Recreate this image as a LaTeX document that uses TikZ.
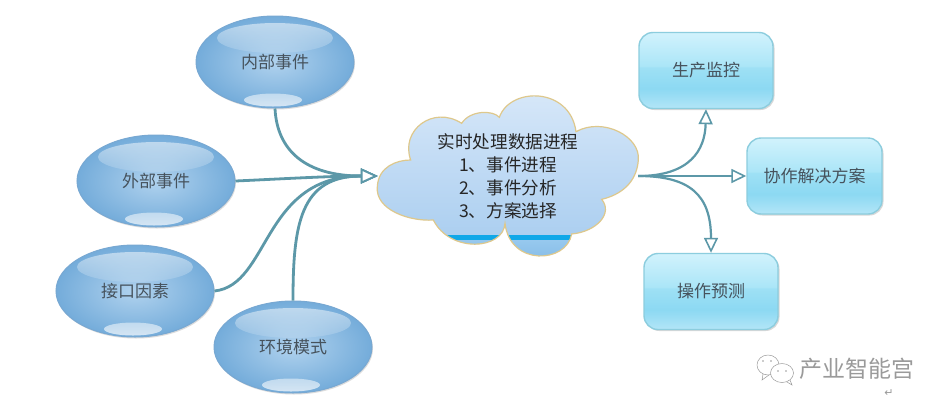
\documentclass[tikz,border=0pt]{standalone}
\usepackage{fontspec}
\setmainfont{Noto Sans CJK SC}
\usetikzlibrary{shapes.geometric,arrows.meta,fadings,shadows}
\definecolor{linkc}{HTML}{5C98A8}
\definecolor{txtc}{HTML}{46525C}
\definecolor{wmark}{HTML}{9A9A9A}
\definecolor{evin}{RGB}{176,210,238}
\definecolor{evout}{RGB}{116,172,218}
\definecolor{evline}{RGB}{120,168,210}
\definecolor{acline}{RGB}{140,205,222}
\definecolor{cltop}{RGB}{216,232,249}
\definecolor{clbot}{RGB}{172,207,240}
\definecolor{clband}{RGB}{16,168,232}
\definecolor{cllowa}{RGB}{150,200,238}
\definecolor{cllowb}{RGB}{130,185,228}
\definecolor{clline}{RGB}{222,200,140}
\pgfdeclareverticalshading{rectglassb}{100bp}{
 rgb(0bp)=(0.70,0.90,0.97);
 rgb(25bp)=(0.70,0.90,0.97);
 rgb(38bp)=(0.55,0.85,0.95);
 rgb(52bp)=(0.62,0.88,0.96);
 rgb(53bp)=(0.67,0.90,0.97);
 rgb(75bp)=(0.82,0.95,0.99);
 rgb(100bp)=(0.82,0.95,0.99)
}
\tikzset{
 x=1pt,y=-1pt,
 evt/.style={ellipse,inner sep=0pt,minimum width=158pt,minimum height=92pt,
   draw=evline,line width=1pt,inner color=evin,outer color=evout,
   text=txtc,font=\fontsize{17pt}{20pt}\selectfont,
   general shadow={shadow xshift=1pt,shadow yshift=-1.5pt,fill=black!30,opacity=.45}},
 hitop/.style={fill=white,path fading=south,fill opacity=.5},
 hibot/.style={fill=white,path fading=north,fill opacity=.7},
 act/.style={rectangle,rounded corners=14pt,inner sep=0pt,minimum height=76pt,
   draw=acline,line width=1.4pt,shading=rectglassb,
   text=txtc,font=\fontsize{17pt}{20pt}\selectfont,
   general shadow={shadow xshift=1.5pt,shadow yshift=-1.5pt,fill=black!30,opacity=.5}},
 cloudlbl/.style={inner sep=0pt,minimum width=260pt,minimum height=160pt,align=center,
   text=black!85,font=\fontsize{17.6pt}{23pt}\selectfont},
 link/.style={draw=linkc,line width=2.8pt},
 inlink/.style={link,-{Triangle[open,fill=white,length=17pt,width=15pt,line width=1.8pt]}},
 outlink/.style={link,line width=2.2pt,-{Triangle[open,fill=white,length=15pt,width=14pt,line width=1.6pt]}},
 wc/.style={draw=wmark,line width=.5pt,fill=white},
}
\def\cloudpath{(122,240) .. controls (90,150) and (190,75) .. (275,130)
 .. controls (300,90) and (370,90) .. (388,112)
 .. controls (420,20) and (600,20) .. (618,155)
 .. controls (700,110) and (812,170) .. (805,240)
 .. controls (800,310) and (750,345) .. (695,358)
 .. controls (730,400) and (680,455) .. (605,462)
 .. controls (590,550) and (420,560) .. (405,430)
 .. controls (400,510) and (240,520) .. (190,420)
 .. controls (120,425) and (15,390) .. (22,320)
 .. controls (25,260) and (80,240) .. (122,240) -- cycle}
\newcommand{\gloss}[1]{%
 \path[hitop] (#1.center) ++(0,-24) ellipse [x radius=58,y radius=15];
 \path[hibot] (#1.center) ++(-2,38) ellipse [x radius=29,y radius=6.5];}
\begin{document}
\begin{tikzpicture}
\useasboundingbox (0,0) rectangle (945,410);
\fill[white] (0,0) rectangle (945,410);
% cloud
\begin{scope}[shift={(370,80)},scale=1/3]
 \begin{scope}
  \clip \cloudpath;
  \shade[top color=cltop,bottom color=clbot] (0,20) rectangle (820,465);
  \fill[clband] (0,465) rectangle (820,482);
  \shade[top color=cllowa,bottom color=cllowb] (0,482) rectangle (820,560);
 \end{scope}
 \draw[clline,line width=1.2pt] \cloudpath;
\end{scope}
\node[cloudlbl] (cloud) at (508,176) {实时处理数据进程\\1、事件进程\\2、事件分析\\3、方案选择};
% events
\node[evt] (e1) at (275,62) {内部事件};
\node[evt] (e2) at (156,181) {外部事件};
\node[evt] (e3) at (135,291) {接口因素};
\node[evt] (e4) at (293,347) {环境模式};
\gloss{e1}\gloss{e2}\gloss{e3}\gloss{e4}
% actions
\node[act,minimum width=134pt] (a1) at (706,70.5) {生产监控};
\node[act,minimum width=135pt] (a2) at (814.5,176) {协作解决方案};
\node[act,minimum width=134pt] (a3) at (711,291.5) {操作预测};
% connectors
\draw[inlink] (e1.south) .. controls (277,150) and (305,176) .. (cloud.west);
\draw[inlink] (e2.east) .. controls (280,179) and (330,176) .. (cloud.west);
\draw[inlink] (e3.east) .. controls (270,285) and (262,176) .. (cloud.west);
\draw[inlink] (e4.north) .. controls (293,225) and (300,176) .. (cloud.west);
\draw[outlink] (cloud.east) .. controls (690,176) and (705,150) .. (a1.south);
\draw[outlink] (cloud.east) -- (a2.west);
\draw[outlink] (cloud.east) .. controls (690,176) and (711,195) .. (a3.north);
% watermark
\path[wc] (768,365) ellipse [x radius=11,y radius=10];
\draw[wmark,line width=.5pt] (763,374) -- (762,380) -- (769,375);
\path[wc] (782,373) ellipse [x radius=11.5,y radius=9.5];
\draw[wmark,line width=.5pt] (787,382) -- (792,385) -- (790,380);
\fill[wmark] (763,361) circle (.8) (771,361) circle (.8) (778,371) circle (.8) (786,371) circle (.8);
\node[text=wmark,font=\fontsize{23pt}{24pt}\selectfont,inner sep=0pt] (wm) at (857,369) {产业智能宫};
\node[text=wmark,font=\fontspec{DejaVu Sans}\fontsize{11pt}{11pt}\selectfont,inner sep=0pt] (ret) at (889,393) {↵};
\end{tikzpicture}
\end{document}
